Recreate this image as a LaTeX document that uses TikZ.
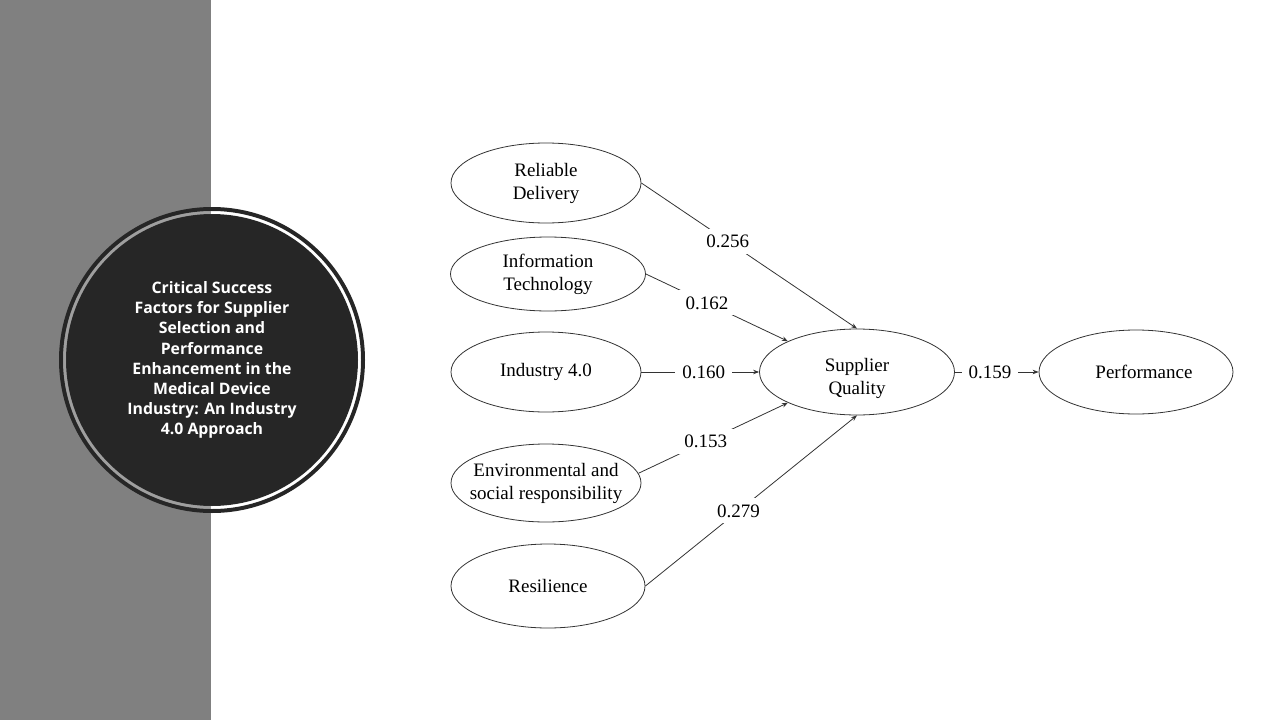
\documentclass[tikz,border=0pt]{standalone}
\usepackage{fontspec}
\setmainfont{Liberation Serif}
\newfontfamily\headfont{Open Sans}
\usetikzlibrary{shapes.geometric,arrows.meta,positioning}
\definecolor{panelgray}{HTML}{808080}
\definecolor{discdark}{HTML}{262626}

\begin{document}
\begin{tikzpicture}[%
x=1pt, y=-1pt,
>={Stealth[length=6pt,width=4.5pt]},
on grid,
factor/.style={ellipse, draw=black!80, line width=0.8pt, minimum width=192pt,
  minimum height=80pt, inner xsep=-11pt, inner ysep=0pt, align=center,
  font=\fontsize{19}{23}\selectfont},
weight/.style={fill=white, inner xsep=7pt, inner ysep=6pt,
  font=\fontsize{19}{22}\selectfont},
link/.style={->, draw=black!80, line width=0.8pt},
titledisc/.style={circle, fill=discdark, minimum size=292pt, text=white,
  align=center, font=\headfont\bfseries\fontsize{15.8}{20.1}\selectfont}
]
\useasboundingbox (0,0) rectangle (1280,720);

% left panel and title
\fill[panelgray] (0,0) rectangle (211,720);
\node[titledisc] (title) at (212,360) {Critical Success\\Factors for Supplier\\Selection and\\Performance\\Enhancement in the\\Medical Device\\Industry: An Industry\\4.0 Approach};
\draw[discdark, line width=4pt] (title.center) circle[radius=151pt];
\fill[white, opacity=0.25, even odd rule] (title.center) circle[radius=149pt]
  circle[radius=146pt];

% constructs
\node[factor, minimum width=195pt, minimum height=86pt, text height=49pt] (sq) at (857,372) {Supplier\\Quality};
\node[factor, minimum width=190pt] (ind) [left=311pt of sq] {Industry 4.0};
\node[factor, minimum width=195pt, minimum height=74pt] (it) [above=98pt of ind, xshift=2pt] {Information\\Technology};
\node[factor, minimum width=190pt] (rd) [above=91pt of it, xshift=-2pt] {Reliable\\Delivery};
\node[factor, minimum width=190pt, minimum height=78pt] (env) [below=111pt of ind] {Environmental and\\social responsibility};
\node[factor, minimum width=194pt, minimum height=84pt] (res) [below=103pt of env, xshift=2pt] {Resilience};
\node[factor, minimum width=194pt, minimum height=84pt] (perf) [right=279pt of sq] {\hspace*{16pt}Performance};

% paths
\path (rd.east) edge[link] node[weight, pos=0.40] {0.256} (sq.north);
\path (it.east) edge[link] node[weight, pos=0.43] {0.162} (sq.156);
\path (ind.east) edge[link] node[weight, pos=0.53] {0.160} (sq.west);
\path (env.6) edge[link] node[weight, pos=0.45] {0.153} (sq.204);
\path (res.east) edge[link] node[weight, pos=0.44] {0.279} (sq.south);
\path (sq.east) edge[link] node[weight, pos=0.42] {0.159} (perf.west);
\end{tikzpicture}
\end{document}
